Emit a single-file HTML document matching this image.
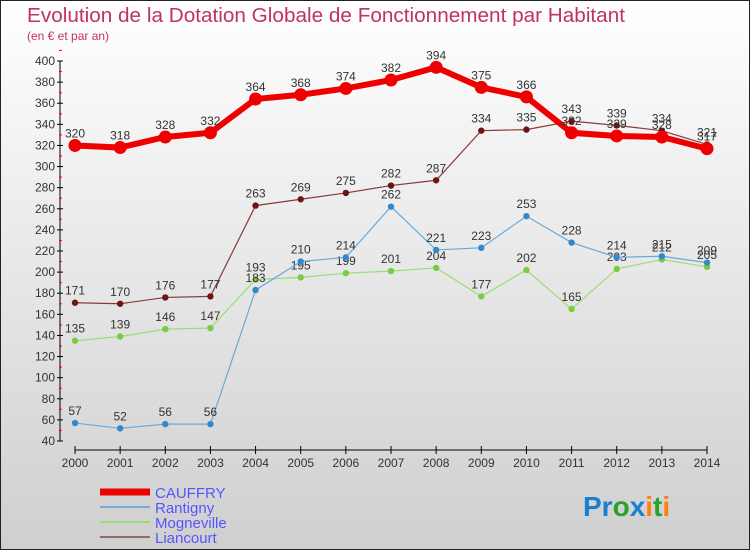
<!DOCTYPE html>
<html><head><meta charset="utf-8"><style>
body{margin:0}
#wrap{width:750px;height:550px;position:relative;font-family:"Liberation Sans",sans-serif;}
</style></head><body>
<div id="wrap">
<svg id="c" width="750" height="550" xmlns="http://www.w3.org/2000/svg">
<defs><linearGradient id="bg" x1="0" y1="0" x2="0" y2="1"><stop offset="0" stop-color="#ffffff"/><stop offset="1" stop-color="#cfcfcf"/></linearGradient></defs>
<rect x="0.5" y="0.5" width="749" height="549" fill="url(#bg)" stroke="#222"/>
<text x="27" y="22" font-size="20" fill="#c0306a" textLength="598" lengthAdjust="spacingAndGlyphs">Evolution de la Dotation Globale de Fonctionnement par Habitant</text>
<text x="27" y="40" font-size="12" fill="#c0306a">(en € et par an)</text>
<g id="axes"></g><g id="series"></g>
<g id="legend"></g>
<text x="583" y="516" font-size="28" font-weight="bold"><tspan fill="#1a7fd0">Pr</tspan><tspan fill="#2ca02c">o</tspan><tspan fill="#1a7fd0">x</tspan><tspan fill="#ff7f0e">i</tspan><tspan fill="#2ca02c">t</tspan><tspan fill="#ff7f0e">i</tspan></text>
</svg>
</div>
<script>
const years=[2000,2001,2002,2003,2004,2005,2006,2007,2008,2009,2010,2011,2012,2013,2014];
const cauffry=[320,318,328,332,364,368,374,382,394,375,366,332,329,328,317];
const rantigny=[57,52,56,56,183,210,214,262,221,223,253,228,214,215,209];
const mogneville=[135,139,146,147,193,195,199,201,204,177,202,165,203,212,205];
const liancourt=[171,170,176,177,263,269,275,282,287,334,335,343,339,334,321];
const yTicks=[40,60,80,100,120,140,160,180,200,220,240,260,280,300,320,340,360,380,400];
const NS="http://www.w3.org/2000/svg";
function X(i){return 75+i*(707-75)/(years.length-1);}
function Y(v){return 441-(v-40)*(441-61)/360;}
function mk(tag,attrs,parent,text){const e=document.createElementNS(NS,tag);for(const k in attrs)e.setAttribute(k,attrs[k]);if(text!==undefined)e.textContent=text;parent.appendChild(e);return e;}
const ax=document.getElementById('axes');
let yl=mk('line',{x1:60,y1:Y(400),x2:60,y2:Y(40),stroke:'#000'},ax);


yTicks.forEach(v=>{
 mk('line',{x1:57,y1:Y(v),x2:63,y2:Y(v),stroke:'#000'},ax);
 mk('line',{x1:59,y1:Y(v+10),x2:62,y2:Y(v+10),stroke:'#f00'},ax);
 let t=mk('text',{x:55,y:Y(v)+4,'font-size':12,fill:'#333','text-anchor':'end'},ax,v);
 
 
});
let xl=mk('line',{x1:75,y1:450,x2:707,y2:450,stroke:'#000'},ax);


years.forEach((y,i)=>{
 mk('line',{x1:X(i),y1:446,x2:X(i),y2:454,stroke:'#000'},ax);
 let t=mk('text',{x:X(i),y:467,'font-size':12,fill:'#333','text-anchor':'middle'},ax,y);
 
 
});
const sg=document.getElementById('series');
function draw(vals,color,dot,w,r,name){
 const g=mk('g',{},sg);
 
 
 let l=mk('polyline',{points:vals.map((v,i)=>X(i)+','+Y(v)).join(' '),fill:'none',stroke:color,'stroke-width':w},g);
 
 
 vals.forEach((v,i)=>{
  let c=mk('circle',{cx:X(i),cy:Y(v),r:r,fill:dot},g);
  
  
  let t=mk('text',{x:X(i),y:Y(v)-8,'font-size':12,fill:'#333','text-anchor':'middle'},g,v);
  
  
 });
}
draw(liancourt,'#8b3a3a','#6b1515',1.2,3.2,'liancourt');
draw(mogneville,'#99dd77','#77cc44',1.2,3.2,'mogneville');
draw(rantigny,'#66aadd','#3388cc',1.2,3.2,'rantigny');
draw(cauffry,'#ee0000','#ee0000',6,6.5,'cauffry');
const lg=document.getElementById('legend');
[['CAUFFRY','#ee0000',7],['Rantigny','#77aadd',2],['Mogneville','#99dd77',2],['Liancourt','#996666',2]].forEach((d,i)=>{
 const y=492+i*15;
 let g=mk('g',{},lg);
 
 
 mk('line',{x1:100,y1:y,x2:150,y2:y,stroke:d[1],'stroke-width':d[2]},g);
 mk('text',{x:155,y:y+6,'font-size':15,fill:'#5555ff'},g,d[0]);
});
</script>
</body></html>
